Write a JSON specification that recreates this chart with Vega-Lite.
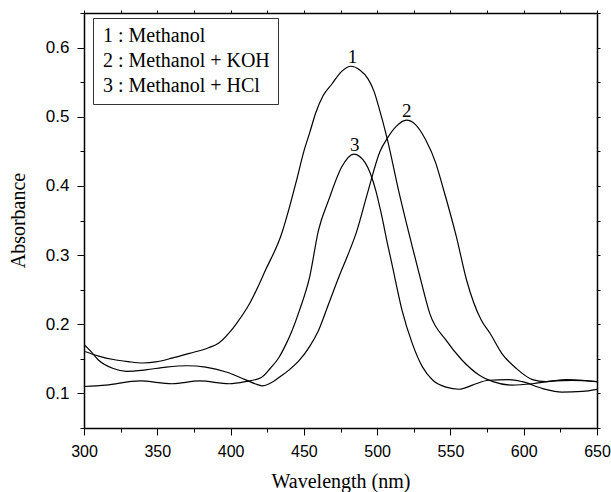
{
  "$schema": "https://vega.github.io/schema/vega-lite/v6.json",
  "width": 513,
  "height": 415,
  "autosize": {"type": "none"},
  "padding": {"left": 84, "top": 13, "right": 14, "bottom": 64},
  "background": "white",
  "config": {
    "view": {"stroke": null},
    "axis": {"grid": false, "domainColor": "black", "tickColor": "black", "labelColor": "black", "titleColor": "black", "domainWidth": 1.5, "tickWidth": 1},
    "legend": {"labelFont": "Liberation Serif", "labelFontSize": 20, "labelColor": "black"}
  },
  "datasets": {
    "spectra": [
      {"series": "1 : Methanol", "wavelength": 300, "absorbance": 0.161},
      {"series": "1 : Methanol", "wavelength": 310, "absorbance": 0.154},
      {"series": "1 : Methanol", "wavelength": 320, "absorbance": 0.149},
      {"series": "1 : Methanol", "wavelength": 330, "absorbance": 0.146},
      {"series": "1 : Methanol", "wavelength": 340, "absorbance": 0.144},
      {"series": "1 : Methanol", "wavelength": 350, "absorbance": 0.146},
      {"series": "1 : Methanol", "wavelength": 360, "absorbance": 0.151},
      {"series": "1 : Methanol", "wavelength": 372, "absorbance": 0.158},
      {"series": "1 : Methanol", "wavelength": 385, "absorbance": 0.166},
      {"series": "1 : Methanol", "wavelength": 392, "absorbance": 0.173},
      {"series": "1 : Methanol", "wavelength": 400, "absorbance": 0.19},
      {"series": "1 : Methanol", "wavelength": 404, "absorbance": 0.201},
      {"series": "1 : Methanol", "wavelength": 413, "absorbance": 0.23},
      {"series": "1 : Methanol", "wavelength": 424, "absorbance": 0.279},
      {"series": "1 : Methanol", "wavelength": 435, "absorbance": 0.332},
      {"series": "1 : Methanol", "wavelength": 440, "absorbance": 0.368},
      {"series": "1 : Methanol", "wavelength": 445, "absorbance": 0.408},
      {"series": "1 : Methanol", "wavelength": 450, "absorbance": 0.45},
      {"series": "1 : Methanol", "wavelength": 454, "absorbance": 0.477},
      {"series": "1 : Methanol", "wavelength": 458, "absorbance": 0.505},
      {"series": "1 : Methanol", "wavelength": 463, "absorbance": 0.53},
      {"series": "1 : Methanol", "wavelength": 469, "absorbance": 0.547},
      {"series": "1 : Methanol", "wavelength": 476, "absorbance": 0.566},
      {"series": "1 : Methanol", "wavelength": 482, "absorbance": 0.573},
      {"series": "1 : Methanol", "wavelength": 488, "absorbance": 0.568},
      {"series": "1 : Methanol", "wavelength": 494, "absorbance": 0.554},
      {"series": "1 : Methanol", "wavelength": 498, "absorbance": 0.536},
      {"series": "1 : Methanol", "wavelength": 501, "absorbance": 0.515},
      {"series": "1 : Methanol", "wavelength": 507, "absorbance": 0.467},
      {"series": "1 : Methanol", "wavelength": 515, "absorbance": 0.39},
      {"series": "1 : Methanol", "wavelength": 524, "absorbance": 0.312},
      {"series": "1 : Methanol", "wavelength": 530, "absorbance": 0.262},
      {"series": "1 : Methanol", "wavelength": 536, "absorbance": 0.215},
      {"series": "1 : Methanol", "wavelength": 547, "absorbance": 0.177},
      {"series": "1 : Methanol", "wavelength": 558, "absorbance": 0.148},
      {"series": "1 : Methanol", "wavelength": 570, "absorbance": 0.126},
      {"series": "1 : Methanol", "wavelength": 579, "absorbance": 0.117},
      {"series": "1 : Methanol", "wavelength": 592, "absorbance": 0.112},
      {"series": "1 : Methanol", "wavelength": 606, "absorbance": 0.114},
      {"series": "1 : Methanol", "wavelength": 620, "absorbance": 0.118},
      {"series": "1 : Methanol", "wavelength": 633, "absorbance": 0.119},
      {"series": "1 : Methanol", "wavelength": 650, "absorbance": 0.117},
      {"series": "2 : Methanol + KOH", "wavelength": 300, "absorbance": 0.171},
      {"series": "2 : Methanol + KOH", "wavelength": 305, "absorbance": 0.16},
      {"series": "2 : Methanol + KOH", "wavelength": 310, "absorbance": 0.148},
      {"series": "2 : Methanol + KOH", "wavelength": 320, "absorbance": 0.136},
      {"series": "2 : Methanol + KOH", "wavelength": 329, "absorbance": 0.132},
      {"series": "2 : Methanol + KOH", "wavelength": 342, "absorbance": 0.134},
      {"series": "2 : Methanol + KOH", "wavelength": 356, "absorbance": 0.138},
      {"series": "2 : Methanol + KOH", "wavelength": 370, "absorbance": 0.14},
      {"series": "2 : Methanol + KOH", "wavelength": 383, "absorbance": 0.138},
      {"series": "2 : Methanol + KOH", "wavelength": 397, "absorbance": 0.131},
      {"series": "2 : Methanol + KOH", "wavelength": 410, "absorbance": 0.12},
      {"series": "2 : Methanol + KOH", "wavelength": 418, "absorbance": 0.113},
      {"series": "2 : Methanol + KOH", "wavelength": 422, "absorbance": 0.111},
      {"series": "2 : Methanol + KOH", "wavelength": 429, "absorbance": 0.117},
      {"series": "2 : Methanol + KOH", "wavelength": 433, "absorbance": 0.123},
      {"series": "2 : Methanol + KOH", "wavelength": 440, "absorbance": 0.134},
      {"series": "2 : Methanol + KOH", "wavelength": 447, "absorbance": 0.148},
      {"series": "2 : Methanol + KOH", "wavelength": 454, "absorbance": 0.168},
      {"series": "2 : Methanol + KOH", "wavelength": 460, "absorbance": 0.191},
      {"series": "2 : Methanol + KOH", "wavelength": 467, "absorbance": 0.23},
      {"series": "2 : Methanol + KOH", "wavelength": 474, "absorbance": 0.269},
      {"series": "2 : Methanol + KOH", "wavelength": 480, "absorbance": 0.3},
      {"series": "2 : Methanol + KOH", "wavelength": 486, "absorbance": 0.334},
      {"series": "2 : Methanol + KOH", "wavelength": 494, "absorbance": 0.394},
      {"series": "2 : Methanol + KOH", "wavelength": 502, "absorbance": 0.45},
      {"series": "2 : Methanol + KOH", "wavelength": 507, "absorbance": 0.469},
      {"series": "2 : Methanol + KOH", "wavelength": 513, "absorbance": 0.486},
      {"series": "2 : Methanol + KOH", "wavelength": 520, "absorbance": 0.495},
      {"series": "2 : Methanol + KOH", "wavelength": 526, "absorbance": 0.489},
      {"series": "2 : Methanol + KOH", "wavelength": 533, "absorbance": 0.467},
      {"series": "2 : Methanol + KOH", "wavelength": 540, "absorbance": 0.433},
      {"series": "2 : Methanol + KOH", "wavelength": 545, "absorbance": 0.397},
      {"series": "2 : Methanol + KOH", "wavelength": 554, "absorbance": 0.327},
      {"series": "2 : Methanol + KOH", "wavelength": 561, "absorbance": 0.264},
      {"series": "2 : Methanol + KOH", "wavelength": 571, "absorbance": 0.206},
      {"series": "2 : Methanol + KOH", "wavelength": 577, "absorbance": 0.187},
      {"series": "2 : Methanol + KOH", "wavelength": 585, "absorbance": 0.158},
      {"series": "2 : Methanol + KOH", "wavelength": 595, "absorbance": 0.136},
      {"series": "2 : Methanol + KOH", "wavelength": 606, "absorbance": 0.12},
      {"series": "2 : Methanol + KOH", "wavelength": 615, "absorbance": 0.117},
      {"series": "2 : Methanol + KOH", "wavelength": 629, "absorbance": 0.12},
      {"series": "2 : Methanol + KOH", "wavelength": 640, "absorbance": 0.119},
      {"series": "2 : Methanol + KOH", "wavelength": 650, "absorbance": 0.117},
      {"series": "3 : Methanol + HCl", "wavelength": 300, "absorbance": 0.11},
      {"series": "3 : Methanol + HCl", "wavelength": 315, "absorbance": 0.112},
      {"series": "3 : Methanol + HCl", "wavelength": 338, "absorbance": 0.118},
      {"series": "3 : Methanol + HCl", "wavelength": 360, "absorbance": 0.114},
      {"series": "3 : Methanol + HCl", "wavelength": 379, "absorbance": 0.118},
      {"series": "3 : Methanol + HCl", "wavelength": 399, "absorbance": 0.114},
      {"series": "3 : Methanol + HCl", "wavelength": 410, "absorbance": 0.117},
      {"series": "3 : Methanol + HCl", "wavelength": 421, "absorbance": 0.123},
      {"series": "3 : Methanol + HCl", "wavelength": 427, "absorbance": 0.136},
      {"series": "3 : Methanol + HCl", "wavelength": 433, "absorbance": 0.152},
      {"series": "3 : Methanol + HCl", "wavelength": 438, "absorbance": 0.172},
      {"series": "3 : Methanol + HCl", "wavelength": 442, "absorbance": 0.191},
      {"series": "3 : Methanol + HCl", "wavelength": 447, "absorbance": 0.22},
      {"series": "3 : Methanol + HCl", "wavelength": 454, "absorbance": 0.269},
      {"series": "3 : Methanol + HCl", "wavelength": 460, "absorbance": 0.336},
      {"series": "3 : Methanol + HCl", "wavelength": 467, "absorbance": 0.38},
      {"series": "3 : Methanol + HCl", "wavelength": 476, "absorbance": 0.428},
      {"series": "3 : Methanol + HCl", "wavelength": 484, "absorbance": 0.446},
      {"series": "3 : Methanol + HCl", "wavelength": 492, "absorbance": 0.433},
      {"series": "3 : Methanol + HCl", "wavelength": 499, "absorbance": 0.394},
      {"series": "3 : Methanol + HCl", "wavelength": 503, "absorbance": 0.358},
      {"series": "3 : Methanol + HCl", "wavelength": 507, "absorbance": 0.317},
      {"series": "3 : Methanol + HCl", "wavelength": 510, "absorbance": 0.288},
      {"series": "3 : Methanol + HCl", "wavelength": 517, "absorbance": 0.22},
      {"series": "3 : Methanol + HCl", "wavelength": 524, "absorbance": 0.172},
      {"series": "3 : Methanol + HCl", "wavelength": 531, "absorbance": 0.138},
      {"series": "3 : Methanol + HCl", "wavelength": 538, "absorbance": 0.119},
      {"series": "3 : Methanol + HCl", "wavelength": 547, "absorbance": 0.109},
      {"series": "3 : Methanol + HCl", "wavelength": 556, "absorbance": 0.106},
      {"series": "3 : Methanol + HCl", "wavelength": 565, "absorbance": 0.112},
      {"series": "3 : Methanol + HCl", "wavelength": 576, "absorbance": 0.119},
      {"series": "3 : Methanol + HCl", "wavelength": 590, "absorbance": 0.12},
      {"series": "3 : Methanol + HCl", "wavelength": 599, "absorbance": 0.117},
      {"series": "3 : Methanol + HCl", "wavelength": 613, "absorbance": 0.107},
      {"series": "3 : Methanol + HCl", "wavelength": 626, "absorbance": 0.102},
      {"series": "3 : Methanol + HCl", "wavelength": 640, "absorbance": 0.103},
      {"series": "3 : Methanol + HCl", "wavelength": 650, "absorbance": 0.106}
    ],
    "labels": [
      {"label": "1", "wavelength": 483.2, "absorbance": 0.5865},
      {"label": "2", "wavelength": 520.2, "absorbance": 0.508},
      {"label": "3", "wavelength": 484.8, "absorbance": 0.4586}
    ]
  },
  "layer": [
    {
      "data": {"name": "spectra"},
      "mark": {"type": "line", "interpolate": "monotone", "strokeWidth": 1.2, "clip": true},
      "encoding": {
        "x": {
          "field": "wavelength", "type": "quantitative",
          "scale": {"domain": [300, 650], "nice": false, "zero": false},
          "axis": {
            "orient": "bottom",
            "values": [300, 325, 350, 375, 400, 425, 450, 475, 500, 525, 550, 575, 600, 625, 650],
            "labelExpr": "datum.value % 50 === 0 ? datum.label : ''",
            "tickSize": {"condition": {"test": "datum.value % 50 === 0", "value": 7}, "value": 4},
            "labelOverlap": false, "labelFlush": false,
            "labelFont": "Liberation Sans", "labelFontSize": 16, "labelPadding": 8,
            "title": "Wavelength (nm)", "titleFont": "Liberation Serif", "titleFontSize": 20, "titleFontWeight": "normal",
            "titleBaseline": "alphabetic", "titleY": 59
          }
        },
        "y": {
          "field": "absorbance", "type": "quantitative",
          "scale": {"domain": [0.05, 0.65], "nice": false, "zero": false},
          "axis": {
            "orient": "left",
            "values": [0.05, 0.1, 0.15, 0.2, 0.25, 0.3, 0.35, 0.4, 0.45, 0.5, 0.55, 0.6, 0.65],
            "format": ".1f",
            "labelExpr": "round(datum.value * 100) % 10 === 0 ? datum.label : ''",
            "tickSize": {"condition": {"test": "round(datum.value * 100) % 10 === 0", "value": 7}, "value": 4},
            "labelOverlap": false, "labelFlush": false,
            "labelFont": "Liberation Sans", "labelFontSize": 17, "labelPadding": 8,
            "title": "Absorbance", "titleFont": "Liberation Serif", "titleFontSize": 20, "titleFontWeight": "normal",
            "titleAngle": -90, "titleBaseline": "middle", "titleX": -66, "titleY": 207
          }
        },
        "color": {
          "field": "series", "type": "nominal",
          "scale": {"range": ["black", "black", "black"]},
          "legend": {
            "title": null, "orient": "none", "legendX": 9, "legendY": 5,
            "symbolType": "circle", "symbolSize": 0, "symbolOpacity": 0, "symbolStrokeWidth": 0,
            "labelFont": "Liberation Serif", "labelFontSize": 20, "labelColor": "black",
            "labelOffset": -18, "labelLimit": 400, "padding": 8, "rowPadding": 5,
            "strokeColor": "#333", "fillColor": "white"
          }
        }
      }
    },
    {
      "data": {"name": "labels"},
      "mark": {"type": "text", "font": "Liberation Serif", "fontSize": 19, "baseline": "middle", "align": "center", "color": "black"},
      "encoding": {
        "x": {
          "field": "wavelength", "type": "quantitative",
          "axis": {
            "orient": "top",
            "values": [300, 325, 350, 375, 400, 425, 450, 475, 500, 525, 550, 575, 600, 625, 650],
            "labels": false, "tickSize": 3, "title": null
          }
        },
        "y": {
          "field": "absorbance", "type": "quantitative",
          "axis": {
            "orient": "right",
            "values": [0.05, 0.1, 0.15, 0.2, 0.25, 0.3, 0.35, 0.4, 0.45, 0.5, 0.55, 0.6, 0.65],
            "labels": false, "tickSize": 3, "title": null
          }
        },
        "text": {"field": "label"}
      }
    }
  ],
  "resolve": {"axis": {"x": "independent", "y": "independent"}}
}
